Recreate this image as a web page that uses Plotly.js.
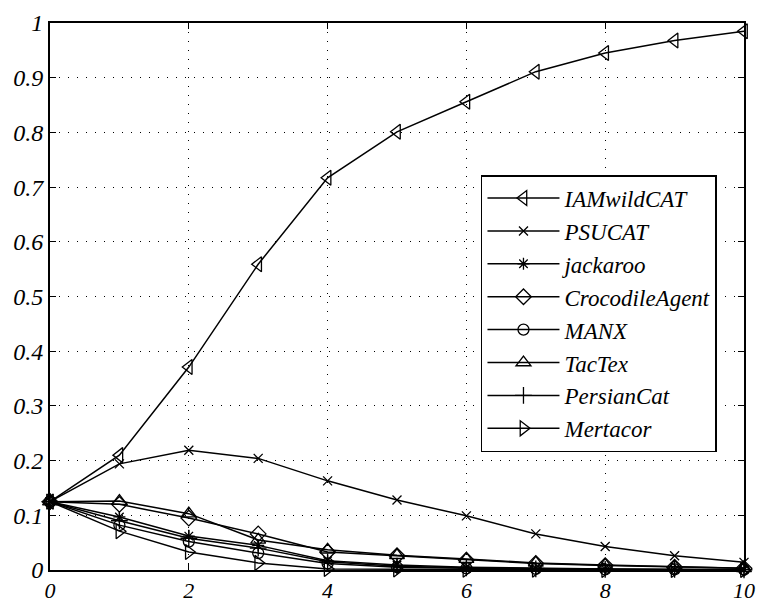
<!DOCTYPE html>
<html><head><meta charset="utf-8">
<script src="https://cdn.plot.ly/plotly-3.0.1.min.js"></script>
<style>body{margin:0;background:#fff}#chart{width:757px;height:602px}</style>
</head><body><div id="chart"></div>
<script>
const xVals = [0,1,2,3,4,5,6,7,8,9,10];
const seriesNames = ["IAMwildCAT","PSUCAT","jackaroo","CrocodileAgent","MANX","TacTex","PersianCat","Mertacor"];
const IAMwildCAT = [0.125,0.21,0.371,0.559,0.717,0.801,0.856,0.911,0.945,0.968,0.985];
const PSUCAT = [0.125,0.194,0.219,0.204,0.163,0.128,0.099,0.066,0.043,0.026,0.014];
const jackaroo = [0.125,0.097,0.062,0.045,0.017,0.009,0.005,0.003,0.002,0.001,0.001];
const CrocodileAgent = [0.125,0.12,0.095,0.066,0.033,0.026,0.018,0.012,0.008,0.005,0.003];
const MANX = [0.125,0.082,0.052,0.031,0.012,0.005,0.003,0.002,0.001,0.001,0.0005];
const TacTex = [0.125,0.126,0.103,0.055,0.037,0.027,0.02,0.013,0.009,0.006,0.003];
const PersianCat = [0.125,0.09,0.058,0.04,0.015,0.007,0.004,0.002,0.001,0.001,0.0005];
const Mertacor = [0.125,0.071,0.033,0.013,0.002,0.001,0.0005,0.0003,0.0002,0.0001,0.0001];
const seriesData = [IAMwildCAT,PSUCAT,jackaroo,CrocodileAgent,MANX,TacTex,PersianCat,Mertacor];
const xTickVals = [0,2,4,6,8,10];
const xTickText = ["0","2","4","6","8","10"];
const yTickVals = [0,0.1,0.2,0.3,0.4,0.5,0.6,0.7,0.8,0.9,1];
const yTickText = ["0","0.1","0.2","0.3","0.4","0.5","0.6","0.7","0.8","0.9","1"];
const symbols = ["triangle-left-open","x-thin-open","asterisk-open","diamond-open","circle-open","triangle-up-open","cross-thin-open","triangle-right-open"];
const sizes = [13,9,10,12,11,13,12,13];

const traces = seriesNames.map((n,i)=>({
  x: xVals, y: seriesData[i], name: n, type:'scatter', mode:'lines+markers',
  cliponaxis:false,
  line:{color:'#000', width:1.5},
  marker:{symbol:symbols[i], size:sizes[i], color:'#000', line:{color:'#000', width:1.3}}
}));

const fontFam = 'Times New Roman';
function axisCommon(sz){ return {
  showline:true, linecolor:'#000', linewidth:2, mirror:'ticks',
  ticks:'inside', ticklen:6, tickwidth:1, tickcolor:'#000',
  showgrid:true, gridcolor:'#000', gridwidth:1, griddash:'1px,8px',
  zeroline:false, tickmode:'array',
  tickfont:{family:fontFam, size:sz, color:'#000'}
};}
const layout = {
  width:757, height:602,
  margin:{l:50, r:13, t:23, b:32},
  paper_bgcolor:'#fff', plot_bgcolor:'#fff',
  showlegend:true,
  font:{family:fontFam, color:'#000'},
  xaxis: Object.assign(axisCommon(22), {range:[0,10], tickvals:xTickVals, ticktext:xTickText.map(t=>'<i>'+t+'</i>')}),
  yaxis: Object.assign(axisCommon(24), {range:[0,1], tickvals:yTickVals, ticktext:yTickText.map(t=>'<i>'+t+'</i>')}),
  legend:{
    x:0.621, y:0.722, xanchor:'left', yanchor:'top',
    bgcolor:'#fff', bordercolor:'#000', borderwidth:1.5,
    font:{family:fontFam, size:23, color:'#000', style:'italic'},
    itemwidth:72
  }
};
Plotly.newPlot('chart', traces, layout, {displayModeBar:false, staticPlot:true});
</script></body></html>
